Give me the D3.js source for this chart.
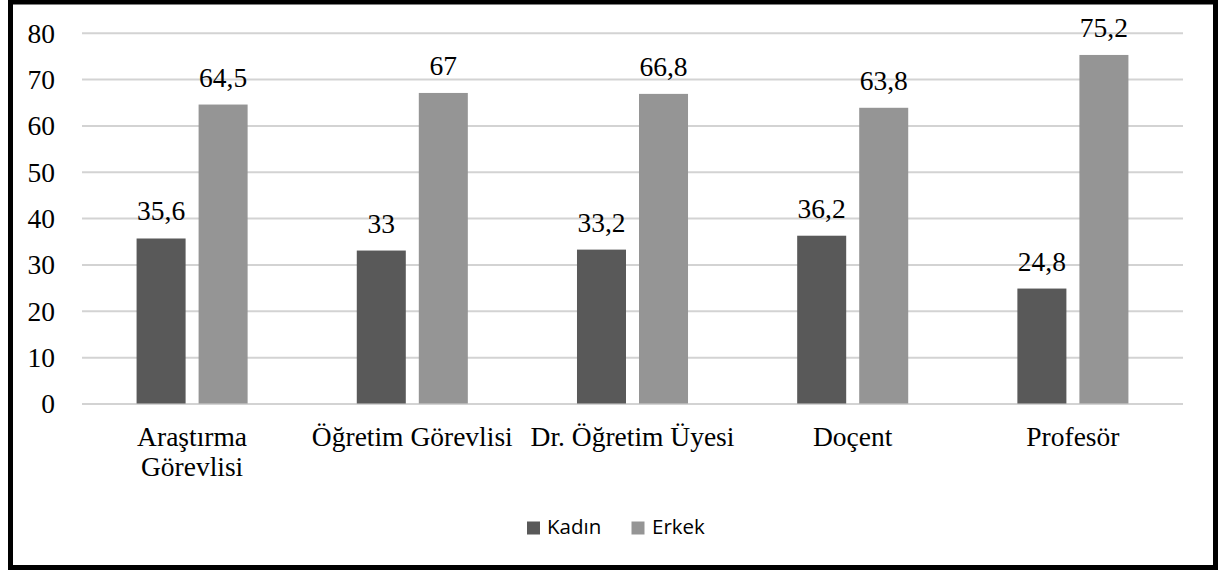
<!DOCTYPE html>
<html>
<head>
<meta charset="utf-8">
<script src="https://cdn.jsdelivr.net/npm/d3@7"></script>
<style>
  html, body { margin: 0; padding: 0; background: #fff; }
  svg { display: block; }
  .serif { font-family: "Liberation Serif", "Times New Roman", "DejaVu Serif", serif; }
  .sans { font-family: "Open Sans", "Noto Sans", sans-serif; }
</style>
</head>
<body>
<svg id="chart" width="1218" height="570"></svg>
<script>
// Academic staff by title: share of women and men (%)
const categories = ["Araştırma Görevlisi", "Öğretim Görevlisi", "Dr. Öğretim Üyesi", "Doçent", "Profesör"];
const categoryLines = [["Araştırma", "Görevlisi"], ["Öğretim Görevlisi"], ["Dr. Öğretim Üyesi"], ["Doçent"], ["Profesör"]];
const seriesNames = ["Kadın", "Erkek"];
const kadin = [35.6, 33, 33.2, 36.2, 24.8];
const erkek = [64.5, 67, 66.8, 63.8, 75.2];
const yTicks = [0, 10, 20, 30, 40, 50, 60, 70, 80];
const colors = { "Kadın": "#595959", "Erkek": "#959595" };

const seriesValues = { "Kadın": kadin, "Erkek": erkek };
const rows = categories.map((c, i) => ({
  category: c,
  lines: categoryLines[i],
  values: seriesNames.map(s => ({ series: s, value: seriesValues[s][i] }))
}));

const svg = d3.select("#chart");
const plot = { left: 82, right: 1183, top: 32.7, bottom: 403.5 };
const serifSize = "27.5px";

// outer frame
svg.append("rect")
  .attr("x", 10.5).attr("y", 2)
  .attr("width", 1205).attr("height", 565.5)
  .attr("fill", "#fff")
  .attr("stroke", "#000").attr("stroke-width", 5);

const x0 = d3.scaleBand().domain(categories).range([plot.left, plot.right]).padding(0);
const x1 = d3.scaleBand().domain(seriesNames).range([0, x0.bandwidth()])
  .paddingInner(13 / 62).paddingOuter(0.88);
const y = d3.scaleLinear().domain([0, 80]).range([plot.bottom, plot.top]);

// horizontal gridlines and value axis labels
const yAxis = d3.axisLeft(y).tickValues(yTicks).tickSize(-(plot.right - plot.left)).tickPadding(27)
  .tickFormat(d3.format("d"));
const gy = svg.append("g").attr("transform", `translate(${plot.left},0)`).call(yAxis)
  .attr("font-family", null).attr("font-size", null);
gy.select(".domain").remove();
gy.selectAll(".tick line").attr("stroke", "#d3d3d3").attr("stroke-width", 2);
gy.selectAll(".tick text")
  .attr("class", "serif").style("font-size", serifSize).attr("fill", "#000")
  .attr("dy", "0.34em");

// bars
const groups = svg.append("g").selectAll("g").data(rows).join("g")
  .attr("transform", d => `translate(${x0(d.category)},0)`);

groups.selectAll("rect").data(d => d.values).join("rect")
  .attr("x", d => x1(d.series))
  .attr("width", x1.bandwidth())
  .attr("y", d => y(d.value))
  .attr("height", d => y(0) - y(d.value))
  .attr("fill", d => colors[d.series]);

// value labels
const fmt = v => String(v).replace(".", ",");
groups.selectAll("text.val").data(d => d.values).join("text")
  .attr("class", "val serif")
  .attr("x", d => x1(d.series) + x1.bandwidth() / 2)
  .attr("y", d => y(d.value) - 18)
  .attr("text-anchor", "middle")
  .style("font-size", serifSize).attr("fill", "#000")
  .text(d => fmt(d.value));

// category labels
const gx = svg.append("g");
rows.forEach(r => {
  const cx = x0(r.category) + x0.bandwidth() / 2;
  const t = gx.append("text")
    .attr("class", "serif")
    .attr("x", cx)
    .attr("y", 446)
    .attr("text-anchor", "middle")
    .style("font-size", serifSize).attr("fill", "#000");
  r.lines.forEach((ln, i) => {
    t.append("tspan")
      .attr("x", cx)
      .attr("dy", i === 0 ? 0 : 30)
      .text(ln);
  });
});

// legend
const legendPos = [{ sx: 527, tx: 547 }, { sx: 631.5, tx: 652 }];
const lg = svg.append("g");
seriesNames.forEach((s, i) => {
  lg.append("rect")
    .attr("x", legendPos[i].sx).attr("y", 521.5)
    .attr("width", 13).attr("height", 13)
    .attr("fill", colors[s]);
  lg.append("text")
    .attr("class", "sans")
    .attr("x", legendPos[i].tx).attr("y", 534)
    .style("font-size", "20.5px").attr("fill", "#000")
    .text(s);
});
</script>
</body>
</html>
